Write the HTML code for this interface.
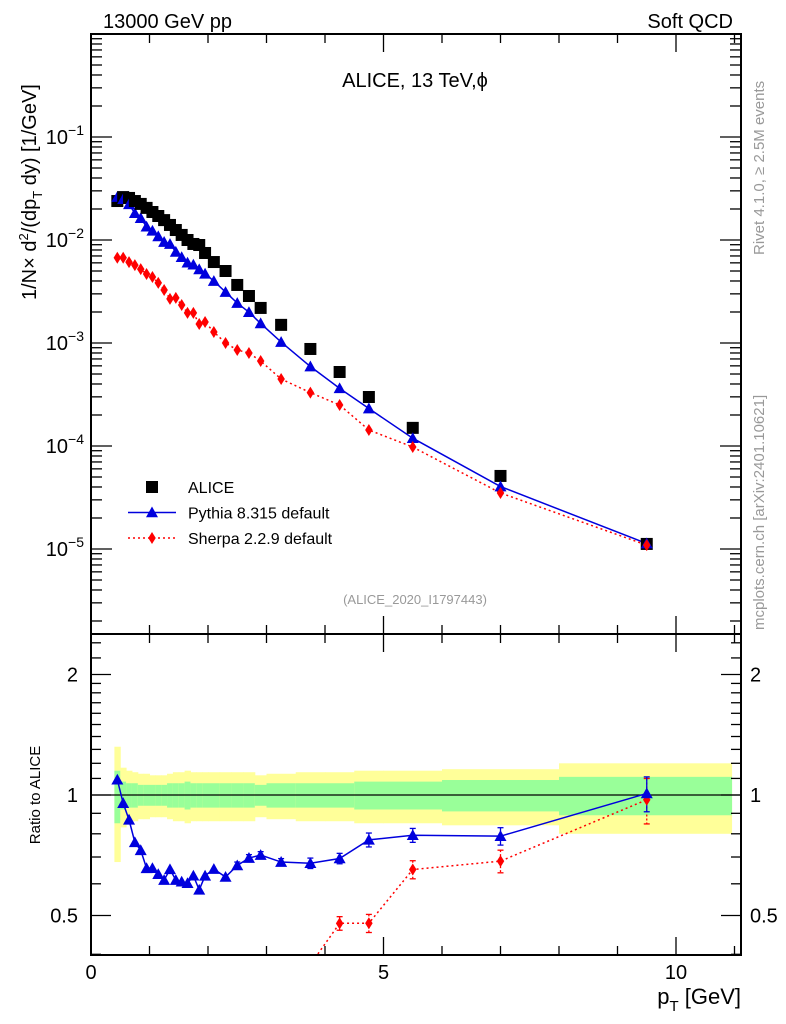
<!DOCTYPE html>
<html><head><meta charset="utf-8">
<style>
html,body{margin:0;padding:0;background:#fff;width:786px;height:1024px;overflow:hidden;}
svg{display:block;font-family:"Liberation Sans","DejaVu Sans",sans-serif;}
</style></head>
<body>
<svg id="chart" width="786" height="1024" viewBox="0 0 786 1024" xmlns="http://www.w3.org/2000/svg">
  <text x="103" y="28" font-size="20">13000 GeV pp</text>
  <text x="733" y="28" font-size="20" text-anchor="end">Soft QCD</text>
  <text x="415" y="87" font-size="20" text-anchor="middle">ALICE, 13 TeV,ϕ</text>
  <text x="415" y="604" font-size="13" fill="#999" text-anchor="middle">(ALICE_2020_I1797443)</text>
  <text transform="translate(764,255) rotate(-90)" font-size="15" fill="#999">Rivet 4.1.0, ≥ 2.5M events</text>
  <text transform="translate(764,630) rotate(-90)" font-size="15" fill="#999">mcplots.cern.ch [arXiv:2401.10621]</text>
  <text transform="translate(36,300) rotate(-90)" font-size="20">1/N<tspan>×</tspan> d<tspan font-size="13" dy="-8">2</tspan><tspan dy="8">/(dp</tspan><tspan font-size="13" dy="6">T</tspan><tspan dy="-6"> dy) [1/GeV]</tspan></text>
  <text transform="translate(40,795) rotate(-90)" font-size="15" text-anchor="middle">Ratio to ALICE</text>
  <text x="741" y="1004" font-size="22" text-anchor="end">p<tspan font-size="15" dy="7">T</tspan><tspan dy="-7"> [GeV]</tspan></text>
  <g id="gBands"></g>
  <g id="gMain"></g>
  <g id="gRatio"></g>
  <g id="gAxes"></g>
  <g id="gLegend"></g>
</svg>
<script>
const xCenters=[0.45,0.55,0.65,0.75,0.85,0.95,1.05,1.15,1.25,1.35,1.45,1.55,1.65,1.75,1.85,1.95,2.1,2.3,2.5,2.7,2.9,3.25,3.75,4.25,4.75,5.5,7,9.5];
const xLow=[0.4,0.5,0.6,0.7,0.8,0.9,1.0,1.1,1.2,1.3,1.4,1.5,1.6,1.7,1.8,1.9,2.0,2.2,2.4,2.6,2.8,3.0,3.5,4.0,4.5,5.0,6.0,8.0];
const xHigh=[0.5,0.6,0.7,0.8,0.9,1.0,1.1,1.2,1.3,1.4,1.5,1.6,1.7,1.8,1.9,2.0,2.2,2.4,2.6,2.8,3.0,3.5,4.0,4.5,5.0,6.0,8.0,10.95];
const aliceVals=[0.0239,0.0261,0.0256,0.0239,0.0224,0.0205,0.0187,0.0171,0.0156,0.0140,0.0125,0.0112,0.0100,0.00915,0.00894,0.00748,0.00611,0.00500,0.00366,0.00286,0.00219,0.00150,0.000875,0.000523,0.000299,0.000150,5.12e-5,1.12e-5];
const pythiaVals=[0.0261,0.0249,0.0222,0.0182,0.0163,0.01345,0.01227,0.01084,0.00956,0.00913,0.00766,0.0068,0.00602,0.00575,0.00518,0.0047,0.00399,0.00312,0.00244,0.00199,0.00155,0.00102,0.000591,0.000363,0.000231,0.000119,4.04e-5,1.13e-5];
const sherpaVals=[0.00673,0.00673,0.0061,0.00571,0.00522,0.00467,0.00437,0.00383,0.00327,0.00268,0.00274,0.00234,0.00196,0.00196,0.00153,0.0016,0.00128,0.001,0.000855,0.0008,0.000668,0.000447,0.00033,0.00025,0.000143,9.77e-5,3.5e-5,1.09e-5];
const totErr=[0.32,0.17,0.15,0.14,0.13,0.13,0.12,0.12,0.12,0.13,0.14,0.14,0.15,0.14,0.14,0.14,0.14,0.14,0.14,0.14,0.12,0.13,0.14,0.14,0.15,0.15,0.16,0.20];
const statErr=[0.15,0.08,0.07,0.07,0.06,0.06,0.06,0.06,0.06,0.07,0.07,0.07,0.08,0.07,0.07,0.07,0.07,0.07,0.07,0.07,0.06,0.07,0.07,0.07,0.08,0.08,0.09,0.11];
const modelRelErr=[0.01,0.01,0.01,0.01,0.01,0.01,0.01,0.01,0.01,0.01,0.01,0.01,0.01,0.01,0.01,0.01,0.01,0.01,0.02,0.02,0.02,0.02,0.03,0.03,0.04,0.04,0.05,0.10];
const mainYTicks=[-5,-4,-3,-2,-1];
const ratioMajor=[0.5,1,2];
const ratioMinor=[0.4,0.6,0.7,0.8,0.9,1.1,1.2,1.3,1.4,1.5,1.6,1.7,1.8,1.9,2.2,2.4];
const xMajor=[0,5,10];

const NS='http://www.w3.org/2000/svg';
const L=91,R=741,MT=34,MB=634,RT=634,RB=955;
const X0=0,X1=(R-L)/58.5;
function sx(v){return L+(v-X0)/(X1-X0)*(R-L);}
function sy(v){return 137+(-1-Math.log10(v))*103;}
function ry(v){return 795-Math.log2(v)*120.5;}
function mk(tag,attrs,parent){const e=document.createElementNS(NS,tag);for(const k in attrs)e.setAttribute(k,attrs[k]);parent.appendChild(e);return e;}
const gB=document.getElementById('gBands'),gM=document.getElementById('gMain'),gR=document.getElementById('gRatio'),gA=document.getElementById('gAxes'),gL=document.getElementById('gLegend');

xCenters.forEach((c,i)=>{
  const x0=sx(xLow[i]),x1=sx(xHigh[i]);
  const y=mk('rect',{x:x0,y:ry(1+totErr[i]),width:x1-x0+0.5,height:ry(1-totErr[i])-ry(1+totErr[i]),fill:'#ffff99'},gB);
  
  
  const g=mk('rect',{x:x0,y:ry(1+statErr[i]),width:x1-x0+0.5,height:ry(1-statErr[i])-ry(1+statErr[i]),fill:'#99ff99'},gB);
  
  
});
const one=mk('line',{x1:L,x2:R,y1:ry(1),y2:ry(1),stroke:'#000','stroke-width':1.3},gB);



function tri(x,y,s,col,parent){return mk('polygon',{points:`${x},${y-s} ${x-s},${y+s*0.8} ${x+s},${y+s*0.8}`,fill:col},parent);}
function dia(x,y,s,col,parent){return mk('polygon',{points:`${x},${y-s*1.2} ${x+s*0.75},${y} ${x},${y+s*1.2} ${x-s*0.75},${y}`,fill:col},parent);}

const pp=mk('polyline',{points:xCenters.map((c,i)=>sx(c)+','+sy(pythiaVals[i])).join(' '),fill:'none',stroke:'#0000dd','stroke-width':1.5},gM);


const sp=mk('polyline',{points:xCenters.map((c,i)=>sx(c)+','+sy(sherpaVals[i])).join(' '),fill:'none',stroke:'#ff0000','stroke-width':1.5,'stroke-dasharray':'2,3'},gM);


xCenters.forEach((c,i)=>{
  const a=mk('rect',{x:sx(c)-6,y:sy(aliceVals[i])-6,width:12,height:12,fill:'#000'},gM);
  
  
  const p=tri(sx(c),sy(pythiaVals[i]),6,'#0000dd',gM);
  
  
  const s=dia(sx(c),sy(sherpaVals[i]),5,'#ff0000',gM);
  
  
});

const clip=mk('clipPath',{id:'rclip'},gR);mk('rect',{x:L,y:RT,width:R-L,height:RB-RT},clip);
const gRc=mk('g',{'clip-path':'url(#rclip)'},gR);
const pr=xCenters.map((c,i)=>pythiaVals[i]/aliceVals[i]);
const sr=xCenters.map((c,i)=>sherpaVals[i]/aliceVals[i]);
const prl=mk('polyline',{points:xCenters.map((c,i)=>sx(c)+','+ry(pr[i])).join(' '),fill:'none',stroke:'#0000dd','stroke-width':1.5},gRc);


const srl=mk('polyline',{points:xCenters.map((c,i)=>sx(c)+','+ry(sr[i])).join(' '),fill:'none',stroke:'#ff0000','stroke-width':1.5,'stroke-dasharray':'2,3'},gRc);


xCenters.forEach((c,i)=>{
  const x=sx(c);
  [[sr[i],'#ff0000',1],[pr[i],'#0000dd',0]].forEach(([v,col,isS])=>{
    const e=modelRelErr[i]*(isS?1.3:1);
    if(e>0.015){
      const y1=ry(v*(1+e)),y2=ry(v*(1-e));
      mk('line',{x1:x,x2:x,y1:y1,y2:y2,stroke:col,'stroke-width':1.3,'stroke-dasharray':isS?'2,2':''},gRc);
      mk('line',{x1:x-3,x2:x+3,y1:y1,y2:y1,stroke:col,'stroke-width':1.3},gRc);
      mk('line',{x1:x-3,x2:x+3,y1:y2,y2:y2,stroke:col,'stroke-width':1.3},gRc);
    }
  });
  const s=dia(x,ry(sr[i]),5,'#ff0000',gRc);
  
  
  const p=tri(x,ry(pr[i]),6,'#0000dd',gRc);
  
  
});

[[MT,MB],[RT,RB]].forEach(([t,b],k)=>{
  const f=mk('rect',{x:L,y:t,width:R-L,height:b-t,fill:'none',stroke:'#000','stroke-width':2},gA);
  
  
  for(let v=0;v<=11;v++){
    const len=(v%5===0)?18:9;
    mk('line',{x1:sx(v),x2:sx(v),y1:b,y2:b-len,stroke:'#000','stroke-width':1.3},gA);
    mk('line',{x1:sx(v),x2:sx(v),y1:t,y2:t+len,stroke:'#000','stroke-width':1.3},gA);
  }
});
xMajor.forEach(v=>{
  const t=mk('text',{x:sx(v),y:979,'font-size':20,'text-anchor':'middle'},gA);t.textContent=v;
  
  
});
for(let d=-6;d<=0;d++){
  for(let m=1;m<10;m++){
    const v=m*Math.pow(10,d);const y=sy(v);
    if(y<MT||y>MB)continue;
    const len=m===1?21:11;
    mk('line',{x1:L,x2:L+len,y1:y,y2:y,stroke:'#000','stroke-width':1.3},gA);
    mk('line',{x1:R,x2:R-len,y1:y,y2:y,stroke:'#000','stroke-width':1.3},gA);
  }
}
mainYTicks.forEach(e=>{
  const t=mk('text',{x:84,y:sy(Math.pow(10,e))+7,'font-size':20,'text-anchor':'end'},gA);
  t.innerHTML='10<tspan font-size="14" dy="-9">−'+(-e)+'</tspan>';
  
  
});
ratioMinor.forEach(v=>{
  mk('line',{x1:L,x2:L+10,y1:ry(v),y2:ry(v),stroke:'#000','stroke-width':1.3},gA);
  mk('line',{x1:R,x2:R-10,y1:ry(v),y2:ry(v),stroke:'#000','stroke-width':1.3},gA);
});
ratioMajor.forEach(v=>{
  mk('line',{x1:L,x2:L+20,y1:ry(v),y2:ry(v),stroke:'#000','stroke-width':1.3},gA);
  mk('line',{x1:R,x2:R-20,y1:ry(v),y2:ry(v),stroke:'#000','stroke-width':1.3},gA);
  const t=mk('text',{x:78,y:ry(v)+7,'font-size':20,'text-anchor':'end'},gA);t.textContent=v;
  
  
  const t2=mk('text',{x:750,y:ry(v)+7,'font-size':20},gA);t2.textContent=v;
  
  
});

const lg=[['ALICE','sq'],['Pythia 8.315 default','tri'],['Sherpa 2.2.9 default','dia']];
lg.forEach(([name,k],i)=>{
  const y=487+i*25.5,x=152;
  const g=mk('g',{},gL);
  
  
  if(k==='sq')mk('rect',{x:x-6,y:y-6,width:12,height:12,fill:'#000'},g);
  if(k==='tri'){mk('line',{x1:x-24,x2:x+24,y1:y,y2:y,stroke:'#0000dd','stroke-width':1.5},g);tri(x,y,6,'#0000dd',g);}
  if(k==='dia'){mk('line',{x1:x-24,x2:x+24,y1:y,y2:y,stroke:'#ff0000','stroke-width':1.5,'stroke-dasharray':'2,3'},g);dia(x,y,5,'#ff0000',g);}
  const t=mk('text',{x:188,y:y+6,'font-size':16},g);t.textContent=name;
});
</script>
</body></html>
